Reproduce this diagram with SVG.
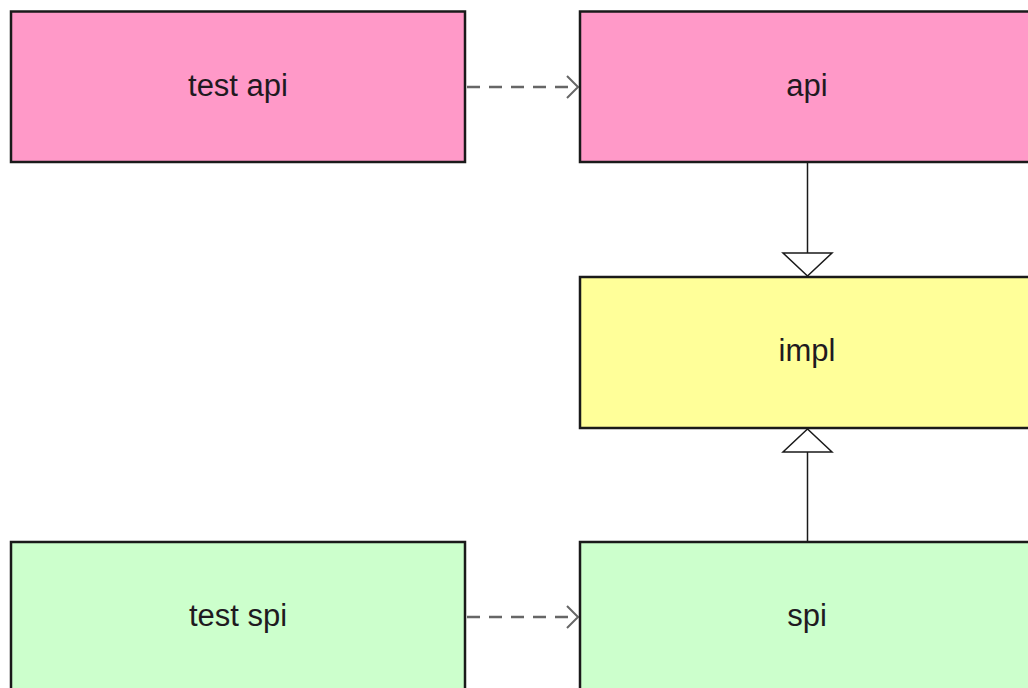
<svg xmlns="http://www.w3.org/2000/svg" width="1028" height="688" viewBox="0 0 1028 688">
  <style>
    .box { stroke: #1a1a1a; stroke-width: 2.5; }
    .api { fill: #ff99c8; }
    .impl { fill: #ffff99; }
    .spi { fill: #ccffcc; }
    .label { font-family: "Liberation Sans", Arial, sans-serif; font-size: 31px; fill: #1f1a1f; text-anchor: middle; }
    .dep { stroke: #666; stroke-width: 2.5; fill: none; stroke-dasharray: 13 9; }
    .head { stroke: #666; stroke-width: 2; fill: none; }
    .gen { stroke: #1a1a1a; stroke-width: 1.5; fill: none; }
    .tri { stroke: #1a1a1a; stroke-width: 1.5; fill: #fff; }
  </style>
  <rect width="1028" height="688" fill="#fff"/>

  <g id="connectors">
    <!-- test api -> api (usage) -->
    <line class="dep" x1="467" y1="87" x2="577" y2="87"/>
    <polyline class="head" points="567,76 578,87 567,98"/>
    <!-- test spi -> spi (usage) -->
    <line class="dep" x1="467" y1="617" x2="577" y2="617"/>
    <polyline class="head" points="567,606 578,617 567,628"/>
    <!-- api realised by impl -->
    <line class="gen" x1="807.5" y1="163" x2="807.5" y2="253"/>
    <polygon class="tri" points="783,253 832,253 807.5,276"/>
    <!-- spi realised by impl -->
    <line class="gen" x1="807.5" y1="452" x2="807.5" y2="541"/>
    <polygon class="tri" points="783,452 832,452 807.5,429"/>
  </g>

  <g id="node-test-api">
    <rect class="box api" x="11" y="11.5" width="454" height="150.5"/>
    <text class="label" x="238" y="96">test api</text>
  </g>
  <g id="node-api">
    <rect class="box api" x="580" y="11.5" width="460" height="150.5"/>
    <text class="label" x="807" y="96">api</text>
  </g>
  <g id="node-impl">
    <rect class="box impl" x="580" y="277" width="460" height="151"/>
    <text class="label" x="807" y="361">impl</text>
  </g>
  <g id="node-test-spi">
    <rect class="box spi" x="11" y="542" width="454" height="160"/>
    <text class="label" x="238" y="626">test spi</text>
  </g>
  <g id="node-spi">
    <rect class="box spi" x="580" y="542" width="460" height="160"/>
    <text class="label" x="807" y="626">spi</text>
  </g>
</svg>
